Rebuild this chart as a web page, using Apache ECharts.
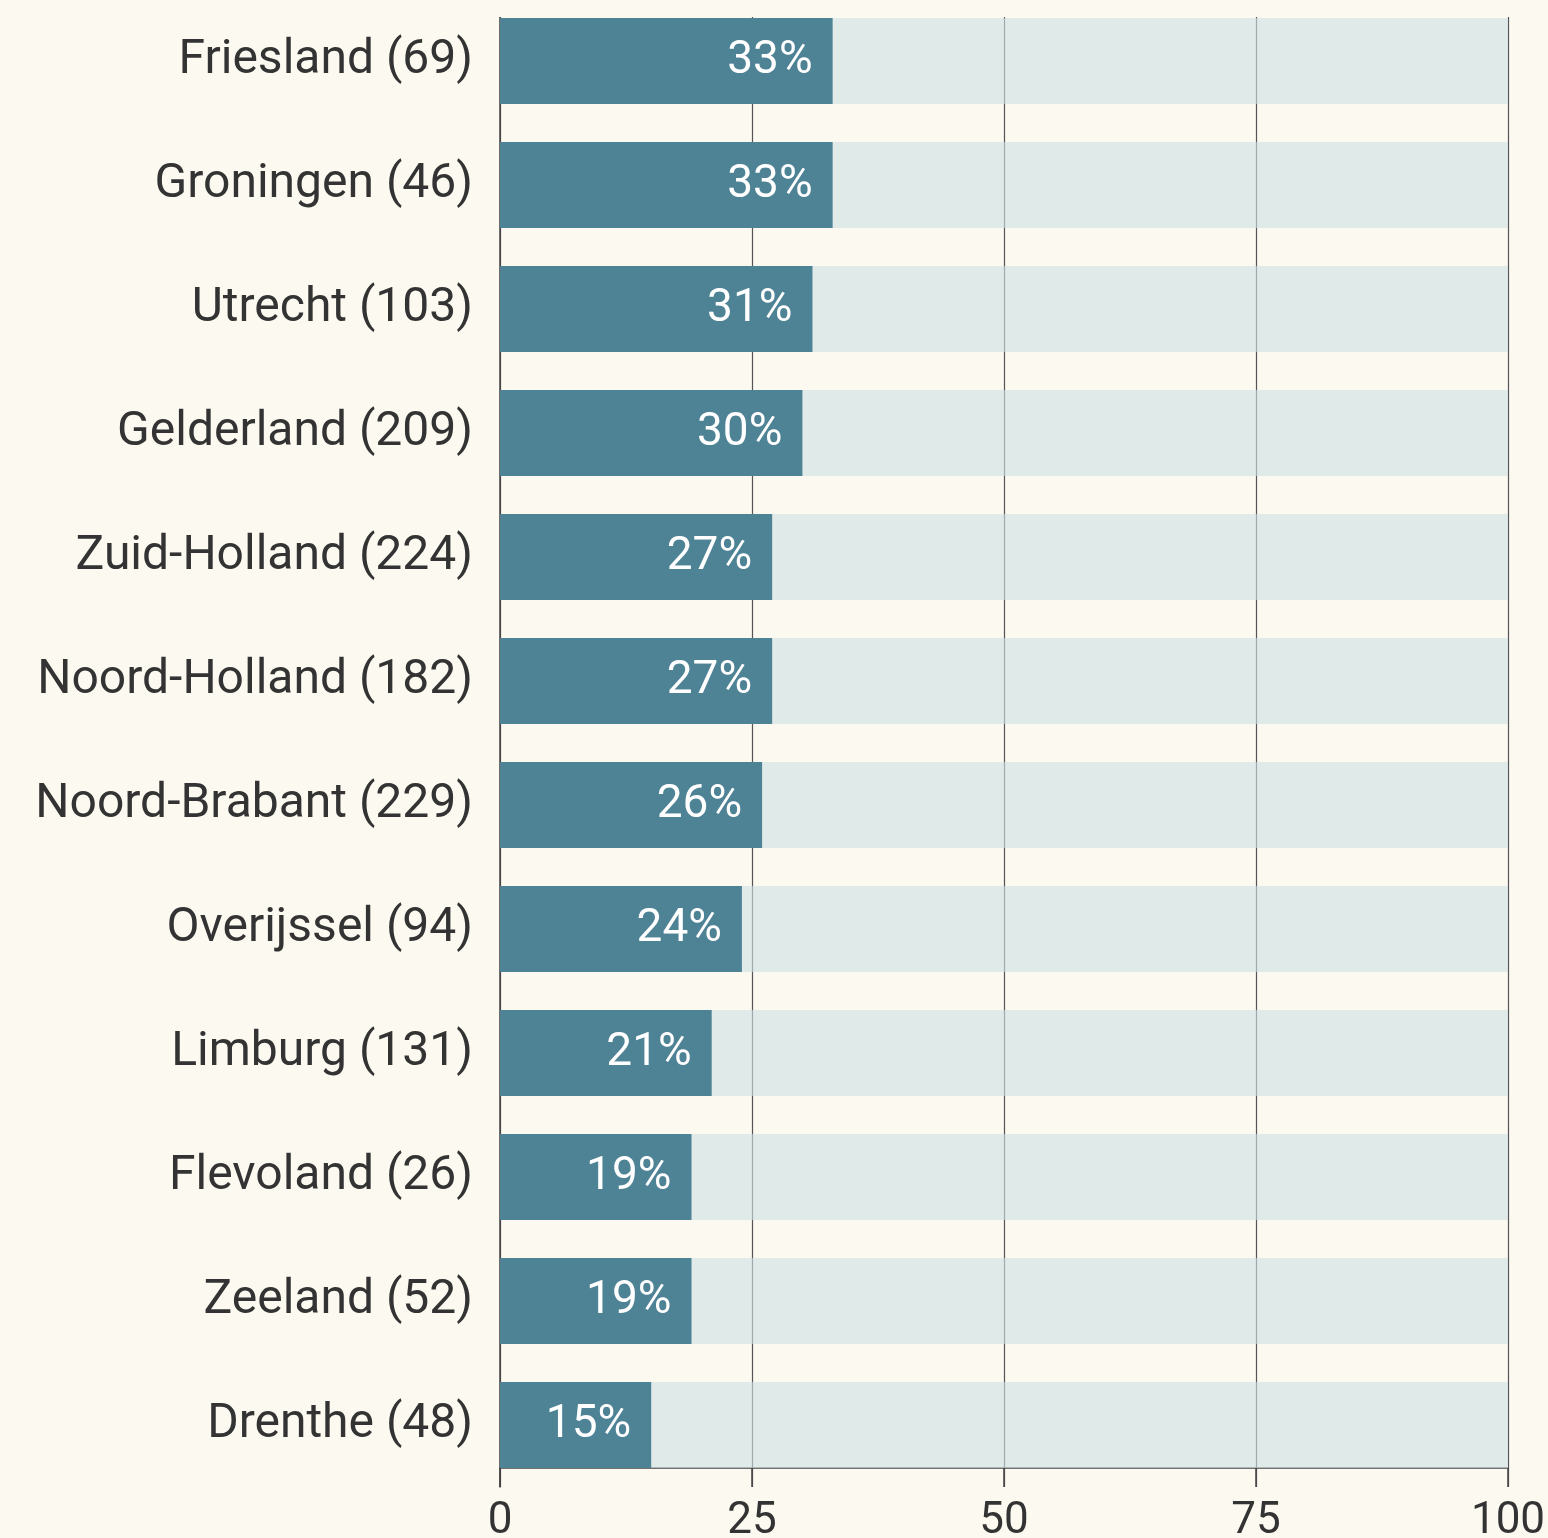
<!doctype html>
<html>
<head>
<meta charset="utf-8">
<title>Provincies</title>
<script src="https://cdn.jsdelivr.net/npm/echarts@6/dist/echarts.min.js"></script>
<style>
  html, body { margin: 0; padding: 0; background: #fcf9f1; }
  #chart { width: 1548px; height: 1538px; }
</style>
</head>
<body>
<div id="chart"></div>
<script>
var provinces = ["Friesland", "Groningen", "Utrecht", "Gelderland", "Zuid-Holland", "Noord-Holland",
  "Noord-Brabant", "Overijssel", "Limburg", "Flevoland", "Zeeland", "Drenthe"];
var counts = [69, 46, 103, 209, 224, 182, 229, 94, 131, 26, 52, 48];
var percentages = [33, 33, 31, 30, 27, 27, 26, 24, 21, 19, 19, 15];
var xTicks = [0, 25, 50, 75, 100];

var labels = provinces.map(function (p, i) { return p + " (" + counts[i] + ")"; });
var font = "Roboto, 'Noto Sans', sans-serif";

var chart = echarts.init(document.getElementById("chart"));
chart.setOption({
  backgroundColor: "#fcf9f1",
  animation: false,
  grid: { left: 500, right: 40, top: -1, bottom: 51, containLabel: false, outerBoundsMode: "none" },
  xAxis: {
    type: "value",
    min: xTicks[0],
    max: xTicks[xTicks.length - 1],
    interval: 25,
    position: "bottom",
    offset: -19,
    axisLine: { show: true, lineStyle: { color: "#444", width: 1.5 } },
    axisTick: { show: true, length: 19, lineStyle: { color: "#444", width: 1.5 } },
    axisLabel: { fontSize: 44, color: "#333", fontFamily: font, margin: 32, hideOverlap: false },
    splitLine: { show: true, lineStyle: { color: "#555", width: 1.2 } }
  },
  yAxis: {
    type: "category",
    inverse: true,
    data: labels,
    axisLine: { show: true, lineStyle: { color: "#444", width: 1.5 } },
    axisTick: { show: false },
    axisLabel: { fontSize: 48, color: "#333", fontFamily: font, margin: 27, padding: [0, 0, 6, 0] }
  },
  graphic: [{
    type: "rect",
    z: 100,
    shape: { x: 480, y: 0, width: 1068, height: 17 },
    style: { fill: "#fcf9f1" }
  }],
  series: [{
    type: "bar",
    data: percentages,
    barWidth: 86,
    showBackground: true,
    backgroundStyle: { color: "rgba(207,225,227,0.62)" },
    itemStyle: { color: "#4e8295" },
    label: {
      show: true,
      position: "insideRight",
      distance: 20,
      formatter: "{c}%",
      color: "#fff",
      fontSize: 46,
      fontFamily: font
    }
  }]
});
</script>
</body>
</html>
